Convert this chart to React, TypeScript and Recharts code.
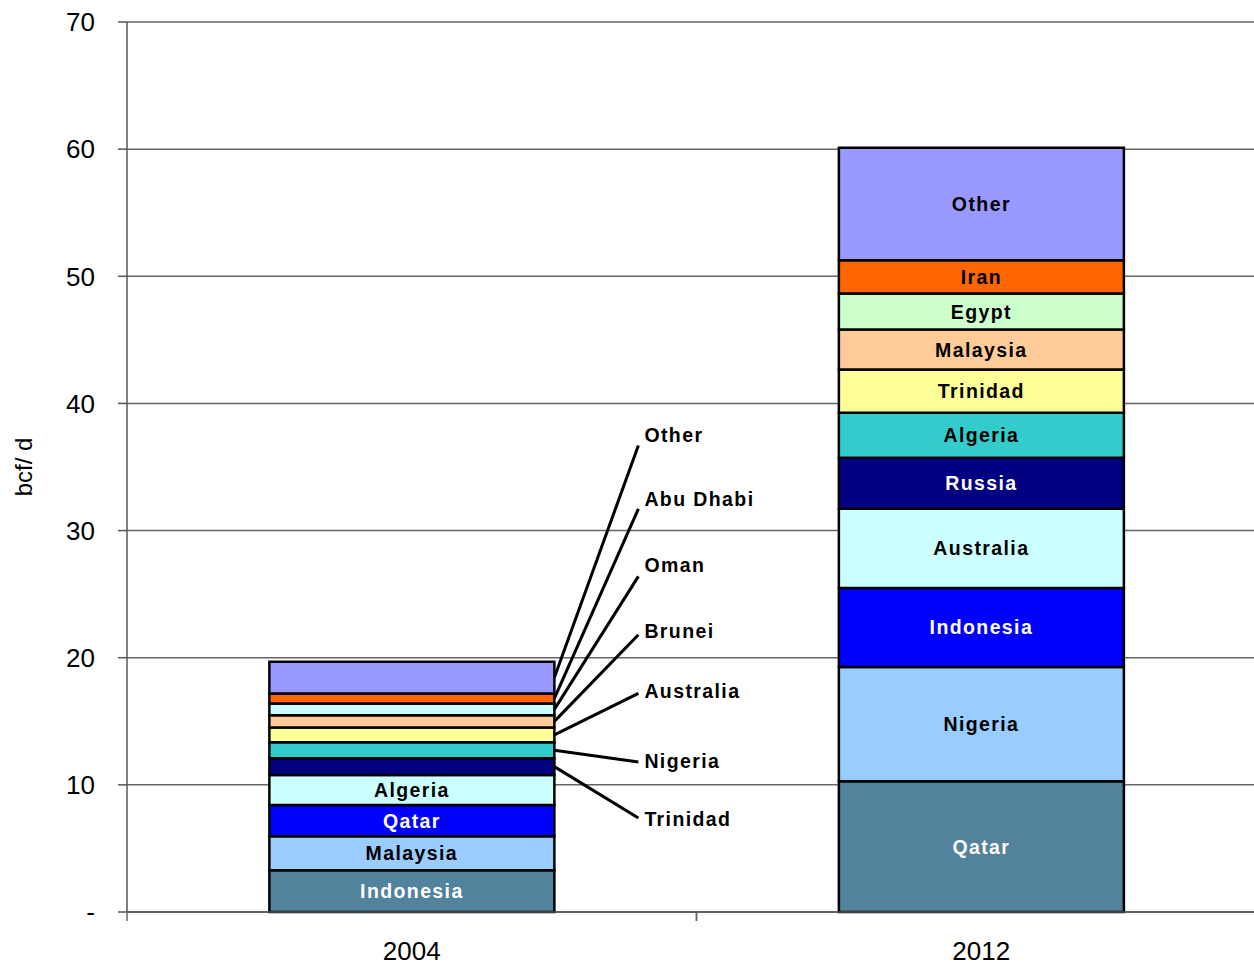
import { BarChart, Bar, XAxis, YAxis, CartesianGrid, Cell, LabelList } from "recharts";

const years = ["2004", "2012"];

// stack positions, bottom to top
const values2004 = [3.28, 2.68, 2.46, 2.36, 1.31, 1.26, 1.16, 0.97, 0.92, 0.79, 2.49];
const values2012 = [10.29, 8.98, 6.22, 6.22, 4.02, 3.54, 3.39, 3.15, 2.83, 2.62, 8.85];

const names2004 = ["Indonesia", "Malaysia", "Qatar", "Algeria", "Trinidad", "Nigeria", "Australia", "Brunei", "Oman", "Abu Dhabi", "Other"];
const names2012 = ["Qatar", "Nigeria", "Indonesia", "Australia", "Russia", "Algeria", "Trinidad", "Malaysia", "Egypt", "Iran", "Other"];

const colors2004 = ["#53829C", "#99CCFF", "#0000FF", "#CCFFFF", "#000080", "#33CCCC", "#FFFF99", "#FFCC99", "#CCFFFF", "#FF6600", "#9999FF"];
const colors2012 = ["#53829C", "#99CCFF", "#0000FF", "#CCFFFF", "#000080", "#33CCCC", "#FFFF99", "#FFCC99", "#CCFFCC", "#FF6600", "#9999FF"];
const whiteText = ["#53829C", "#0000FF", "#000080"];

const yTicks = [0, 10, 20, 30, 40, 50, 60, 70];

// 2004: segments from index 4 up are labelled outside the bar
const firstCallout = 4;
const calloutTextAt = [7.3, 11.9, 17.4, 22.1, 27.3, 32.5, 37.5];
const calloutLineAt = [7.4, 11.8, 17.2, 21.8, 26.4, 31.7, 36.7];

const rows = years.map((year, i) => {
  const row: Record<string, string | number> = { year };
  const vals = i === 0 ? values2004 : values2012;
  vals.forEach((v, k) => (row[`s${k}`] = v));
  return row;
});

const FONT = "'Liberation Sans', Arial, sans-serif";
const CHART_W = 1266;
const CHART_H = 966;
const TOP = 22;
const X_AXIS_H = 54;
const Y_AXIS_W = 127;
const Y_MAX = 70;
const PLOT_H = CHART_H - TOP - X_AXIS_H;
const HALF_BAND = (CHART_W - Y_AXIS_W) / years.length / 2;

const yPx = (v: number) => TOP + (1 - v / Y_MAX) * PLOT_H;

const renderLabel = (props: any, k: number) => {
  const vb = props.viewBox || props;
  const x = Number(vb.x);
  let y = Number(vb.y);
  const w = Number(vb.width);
  let h = Number(vb.height);
  if (h < 0) {
    y += h;
    h = -h;
  }
  const index = props.index;
  const textStyle = {
    fontFamily: FONT,
    fontSize: 19.5,
    fontWeight: 700,
    letterSpacing: 1.4,
  };
  if (index === 0 && k >= firstCallout) {
    const j = k - firstCallout;
    return (
      <g>
        <line
          x1={x + w}
          y1={y + h / 2}
          x2={x + w + 84}
          y2={yPx(calloutLineAt[j])}
          stroke="#000"
          strokeWidth={3}
        />
        <text x={x + w + 90} y={yPx(calloutTextAt[j])} dominantBaseline="central" fill="#000" style={textStyle}>
          {names2004[k]}
        </text>
      </g>
    );
  }
  const fill = index === 0 ? colors2004[k] : colors2012[k];
  const name = index === 0 ? names2004[k] : names2012[k];
  return (
    <text
      x={x + w / 2}
      y={y + h / 2}
      textAnchor="middle"
      dominantBaseline="central"
      fill={whiteText.includes(fill) ? "#fff" : "#000"}
      style={textStyle}
    >
      {name}
    </text>
  );
};

const XTick = (props: any) => {
  const { x, payload } = props;
  const axisY = CHART_H - X_AXIS_H;
  return (
    <g>
      <line x1={x - HALF_BAND} y1={axisY} x2={x - HALF_BAND} y2={axisY + 9} stroke="#666" strokeWidth={1.5} />
      <line x1={x + HALF_BAND} y1={axisY} x2={x + HALF_BAND} y2={axisY + 9} stroke="#666" strokeWidth={1.5} />
      <text x={x} y={axisY + 48} textAnchor="middle" fill="#000" style={{ fontFamily: FONT, fontSize: 26 }}>
        {payload.value}
      </text>
    </g>
  );
};

const App = () => {
  return (
    <div
      style={{
        position: "absolute",
        left: 0,
        top: 0,
        width: 1254,
        height: 966,
        overflow: "hidden",
        background: "#fff",
      }}
    >
      <BarChart
        width={CHART_W}
        height={CHART_H}
        data={rows}
        margin={{ top: TOP, right: 0, left: 0, bottom: 0 }}
        barCategoryGap="25%"
      >
        <CartesianGrid vertical={false} stroke="#666" strokeWidth={1.5} />
        <XAxis
          dataKey="year"
          height={X_AXIS_H}
          stroke="#555"
          strokeWidth={1.5}
          tickLine={false}
          tick={<XTick />}
          interval={0}
        />
        <YAxis
          width={Y_AXIS_W}
          domain={[0, Y_MAX]}
          ticks={yTicks}
          interval={0}
          stroke="#555"
          strokeWidth={1.5}
          tickSize={9}
          tickMargin={23}
          tickFormatter={(v: number) => (v === 0 ? "-" : String(v))}
          tick={{ fontSize: 26, fill: "#000", fontFamily: FONT }}
          label={{
            value: "bcf/ d",
            angle: -90,
            position: "insideLeft",
            offset: 23,
            style: { fontSize: 24, fill: "#000", fontFamily: FONT, textAnchor: "middle" },
          }}
        />
        {values2004.map((_, k) => (
          <Bar
            key={k}
            dataKey={`s${k}`}
            stackId="a"
            stroke="#000"
            strokeWidth={2.5}
            isAnimationActive={false}
          >
            {rows.map((_, i) => (
              <Cell key={i} fill={i === 0 ? colors2004[k] : colors2012[k]} />
            ))}
            <LabelList dataKey={`s${k}`} content={(p: any) => renderLabel(p, k)} />
          </Bar>
        ))}
      </BarChart>
    </div>
  );
};

export default App;
